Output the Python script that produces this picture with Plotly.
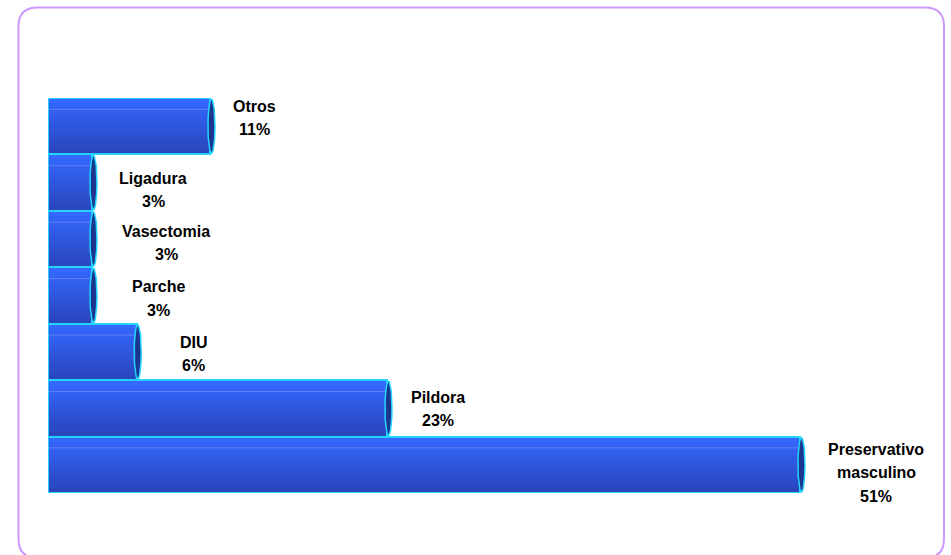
import numpy as np
import plotly.graph_objects as go

# Métodos anticonceptivos utilizados (%)
names = ["Preservativo<br>masculino", "Pildora", "DIU", "Parche", "Vasectomia", "Ligadura", "Otros"]
values = [51, 23, 6, 3, 3, 3, 11]

# label placement tweaks (pixels): horizontal shift from the bar end, vertical shift of the text block
label_dx = [76, 51, 57, 66, 74, 61, 44]
label_dy = [8, 0.6, 2, 2.8, 4, 7.5, -8]

pos = list(range(len(values)))

W, H = 951, 555
ML, MR, MT, MB = 48, 18, 98, 62
XMAX = 60
px_per_unit = (W - ML - MR) / XMAX

fig = go.Figure()

# vertical shading of the cylinders: stacked bands, darker at the bottom, lighter at the top
bottom_rgb = np.array([0x29, 0x46, 0xBC])
top_rgb = np.array([0x35, 0x68, 0xFF])
n_bands = 12
for k in range(n_bands):
    frac = 1 - k / n_bands
    t = k / (n_bands - 1)
    c = (bottom_rgb + (top_rgb - bottom_rgb) * t).astype(int)
    fig.add_trace(go.Bar(
        x=values, y=pos, orientation="h",
        width=frac, offset=0.5 - frac,
        marker=dict(color=f"rgb({c[0]},{c[1]},{c[2]})", line=dict(width=0)),
        hoverinfo="skip", showlegend=False,
    ))

# cyan outline of each bar
fig.add_trace(go.Bar(
    x=values, y=pos, orientation="h", width=1,
    marker=dict(color="rgba(0,0,0,0)", line=dict(color="#22D4FF", width=2)),
    hoverinfo="skip", showlegend=False,
))

# faint highlight stripe near the top of each cylinder
for v, p in zip(values, pos):
    fig.add_trace(go.Scatter(
        x=[0, v], y=[p + 0.3, p + 0.3], mode="lines",
        line=dict(color="rgba(150,175,255,0.45)", width=1),
        hoverinfo="skip", showlegend=False,
    ))

# elliptical end face at the right end of each cylinder
theta = np.linspace(0, 2 * np.pi, 60)
a = 3.5 / px_per_unit
off = 1.2 / px_per_unit
for v, p in zip(values, pos):
    fig.add_trace(go.Scatter(
        x=v + off + a * np.cos(theta), y=p + 0.48 * np.sin(theta),
        mode="lines", fill="toself", fillcolor="#1C3690",
        line=dict(color="#22D4FF", width=1.5),
        hoverinfo="skip", showlegend=False,
    ))

# data labels: category name and percentage, centred lines
line_gap = 23.5
for name, v, p, dx, dy in zip(names, values, pos, label_dx, label_dy):
    lines = name.split("<br>") + [f"{v}%"]
    n = len(lines)
    for j, txt in enumerate(lines):
        shift_down = dy + (j - (n - 1) / 2) * line_gap
        fig.add_annotation(
            x=v, y=p, xref="x", yref="y",
            text=f"<b>{txt}</b>", showarrow=False,
            xanchor="center", yanchor="middle",
            xshift=dx, yshift=-shift_down,
            font=dict(family="Liberation Sans, Arial, sans-serif", size=16, color="#000000"),
        )

# rounded frame around the chart area
def to_paper(px, py):
    return (px - ML) / (W - ML - MR), (H - MB - py) / (H - MT - MB)

x0, y0, x1, y1, r = 18.5, 7.5, 944, 558, 19
pts = [
    ("M", x0 + r, y0), ("L", x1 - r, y0), ("Q", x1, y0, x1, y0 + r),
    ("L", x1, y1 - r), ("Q", x1, y1, x1 - r, y1), ("L", x0 + r, y1),
    ("Q", x0, y1, x0, y1 - r), ("L", x0, y0 + r), ("Q", x0, y0, x0 + r, y0),
]
path = ""
for seg in pts:
    cmd, coords = seg[0], seg[1:]
    conv = []
    for i in range(0, len(coords), 2):
        px_, py_ = to_paper(coords[i], coords[i + 1])
        conv.append(f"{px_:.5f},{py_:.5f}")
    path += cmd + " ".join(conv) + " "
path += "Z"
fig.add_shape(type="path", path=path, xref="paper", yref="paper",
              line=dict(color="#CC99FF", width=2), fillcolor="rgba(0,0,0,0)")

fig.update_layout(
    width=W, height=H,
    margin=dict(l=ML, r=MR, t=MT, b=MB),
    barmode="overlay", bargap=0,
    plot_bgcolor="white", paper_bgcolor="white",
    xaxis=dict(range=[0, XMAX], visible=False, showgrid=False, zeroline=False),
    yaxis=dict(range=[-0.5, len(values) - 0.5], visible=False, showgrid=False, zeroline=False),
    showlegend=False,
)

fig.write_html("out.html")
